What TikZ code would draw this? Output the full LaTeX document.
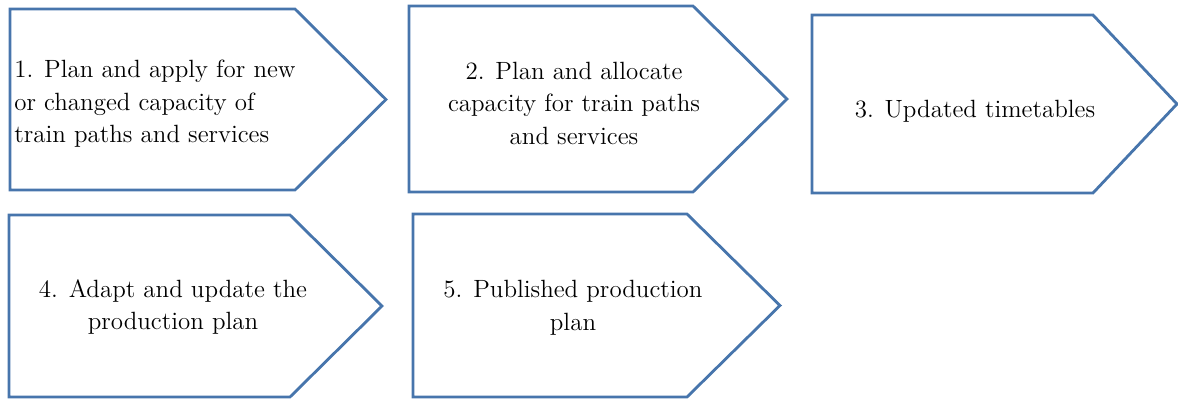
\documentclass[tikz,border=0pt]{standalone}
\definecolor{stepblue}{HTML}{4775AC}
\tikzset{
  stepshape/.style={draw=stepblue, line width=1.6pt, line join=miter},
  steptext/.style={inner sep=0pt, align=center, font=\fontsize{14.2}{18.5}\selectfont}
}
% outline of one step: left, top, corner, tip, bottom
\def\stepoutline#1#2#3#4#5{(#1,#2) -- (#3,#2) -- (#4,{(#2+#5)/2}) -- (#3,#5) -- (#1,#5) -- cycle}

\begin{document}
\begin{tikzpicture}[x=0.02cm,y=-0.02cm]

\useasboundingbox (0,0) rectangle (1178,399);
\clip (0,0) rectangle (1178,399);

% % upper row
\draw[stepshape] \stepoutline{10}{9}{295}{386}{190};
\draw[stepshape] \stepoutline{409}{6}{693}{787}{192};
\draw[stepshape] \stepoutline{812}{15}{1093}{1177}{193};

% % lower row
\draw[stepshape] \stepoutline{9}{215}{290}{382}{397};
\draw[stepshape] \stepoutline{413}{214}{687}{780}{397};

% texts
\node[steptext, anchor=west, align=left] (apply) at (14,104)
  {1. Plan and apply for new\\or changed capacity of\\train paths and services};
\node[steptext] (allocate) at (574,103)
  {2. Plan and allocate\\capacity for train paths\\and services};
\node[steptext, anchor=base] (timetables) at (975,117) {3. Updated timetables};
\node[steptext] (adapt) at (173,307) {4. Adapt and update the\\production plan};
\node[steptext] (published) at (573,308) {5. Published production\\plan};

\end{tikzpicture}
\end{document}
